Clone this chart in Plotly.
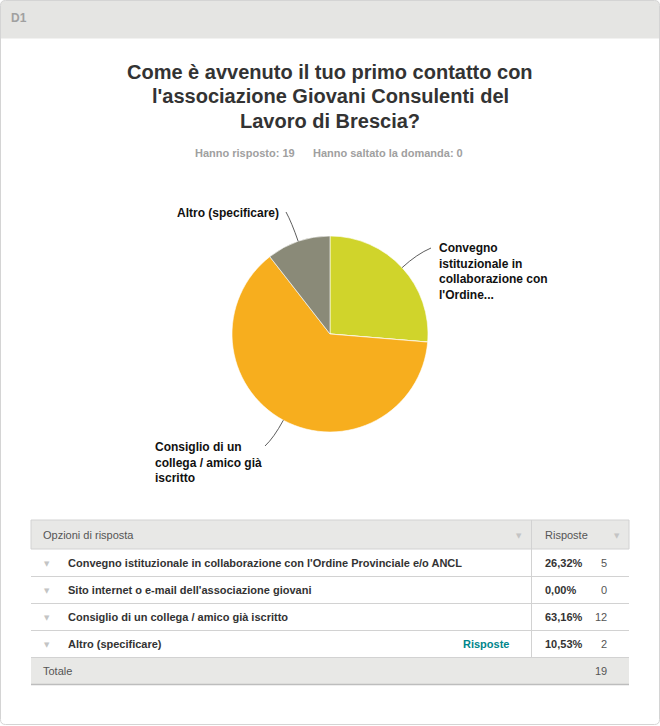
import math
import plotly.graph_objects as go

# ---------------- data ----------------
question_id = "D1"
title_lines = ["Come è avvenuto il tuo primo contatto con",
               "l'associazione Giovani Consulenti del",
               "Lavoro di Brescia?"]
answered = 19
skipped = 0
categories = ["Convegno istituzionale in collaborazione con l'Ordine Provinciale e/o ANCL",
              "Sito internet o e-mail dell'associazione giovani",
              "Consiglio di un collega / amico già iscritto",
              "Altro (specificare)"]
pie_labels = ["Convegno<br>istituzionale in<br>collaborazione con<br>l'Ordine...",
              "Sito internet o<br>e-mail...",
              "Consiglio di un<br>collega / amico già<br>iscritto",
              "Altro (specificare)"]
counts = [5, 0, 12, 2]
percents = [26.32, 0.00, 63.16, 10.53]
slice_colors = ["#D0D42B", "#5C9FD2", "#F7AE1E", "#8A8A78"]
header_labels = ["Opzioni di risposta", "Risposte"]
total_label = "Totale"
link_label = "Risposte"

# ---------------- layout helpers ----------------
W, H = 660, 726
FONT = "Liberation Sans, Arial, DejaVu Sans, sans-serif"


def X(x):
    return x / W


def Y(y):
    return 1 - y / H


fig = go.Figure()

# pie geometry (pixels)
cx, cy, r = 330, 334, 98
fig.add_trace(go.Pie(
    labels=categories, values=counts, sort=False, direction="clockwise",
    rotation=0, marker=dict(colors=slice_colors, line=dict(color="#ffffff", width=0.6)),
    textinfo="none", textposition="none", hoverinfo="label+percent",
    domain=dict(x=[X(cx - r), X(cx + r)], y=[Y(cy + r), Y(cy - r)]),
    showlegend=False,
))

shapes = []
annotations = []

# outer frame with rounded corners
rr = 5
x0, y0, x1, y1 = 0.5, 0.5, 659.5, 724.5
frame = (f"M {X(x0+rr)},{Y(y0)} L {X(x1-rr)},{Y(y0)} Q {X(x1)},{Y(y0)} {X(x1)},{Y(y0+rr)} "
         f"L {X(x1)},{Y(y1-rr)} Q {X(x1)},{Y(y1)} {X(x1-rr)},{Y(y1)} "
         f"L {X(x0+rr)},{Y(y1)} Q {X(x0)},{Y(y1)} {X(x0)},{Y(y1-rr)} "
         f"L {X(x0)},{Y(y0+rr)} Q {X(x0)},{Y(y0)} {X(x0+rr)},{Y(y0)} Z")
# header band
band = (f"M {X(x0+rr)},{Y(y0)} L {X(x1-rr)},{Y(y0)} Q {X(x1)},{Y(y0)} {X(x1)},{Y(y0+rr)} "
        f"L {X(x1)},{Y(38.5)} L {X(x0)},{Y(38.5)} L {X(x0)},{Y(y0+rr)} Q {X(x0)},{Y(y0)} {X(x0+rr)},{Y(y0)} Z")
shapes.append(dict(type="path", path=band, xref="paper", yref="paper",
                   fillcolor="#E5E5E3", line=dict(width=0), layer="below"))
shapes.append(dict(type="path", path=frame, xref="paper", yref="paper",
                   fillcolor="rgba(0,0,0,0)", line=dict(color="#D4D4D4", width=1)))

annotations.append(dict(text=f"<b>{question_id}</b>", x=X(9), y=Y(18), xref="paper", yref="paper",
                        xanchor="left", yanchor="middle", showarrow=False,
                        font=dict(family=FONT, size=12, color="#A0A0A0")))

# title
for i, line in enumerate(title_lines):
    annotations.append(dict(text=f"<b>{line}</b>", x=X(330), y=Y(72 + i * 24.5), xref="paper", yref="paper",
                            xanchor="center", yanchor="middle", showarrow=False,
                            font=dict(family=FONT, size=20, color="#333333")))

annotations.append(dict(text=f"<b>Hanno risposto: {answered}</b>      <b>Hanno saltato la domanda: {skipped}</b>",
                        x=X(329), y=Y(153), xref="paper", yref="paper", xanchor="center", yanchor="middle",
                        showarrow=False, font=dict(family=FONT, size=11, color="#A0A0A0")))

# pie labels with curved leader lines, anchored to slice mid-angles
total = sum(counts)
label_pos = {0: (437, 271), 2: (153, 462), 3: (175, 213)}
line_end = {0: (431, 248), 2: (265, 446), 3: (286, 212)}
cum = 0.0
for i, c in enumerate(counts):
    start = cum
    cum += c / total * 360
    if c == 0:
        continue
    mid = math.radians((start + cum) / 2)
    ux, uy = math.sin(mid), -math.cos(mid)
    ex, ey = cx + r * ux, cy + r * uy
    kx, ky = ex + 20 * ux, ey + 20 * uy
    tx, ty = line_end[i]
    shapes.append(dict(type="path", xref="paper", yref="paper",
                       path=f"M {X(ex)},{Y(ey)} Q {X(kx)},{Y(ky)} {X(tx)},{Y(ty)}",
                       line=dict(color="#333333", width=0.8)))
    lx, ly = label_pos[i]
    annotations.append(dict(text=f"<b>{pie_labels[i]}</b>", x=X(lx), y=Y(ly), xref="paper", yref="paper",
                            xanchor="left", yanchor="middle", align="left", showarrow=False,
                            font=dict(family=FONT, size=12, color="#111111")))

# ---------------- table ----------------
tl, tr, tdiv = 31, 629, 531
head_top, head_bot = 520, 549
row_h = 27
grey = "#E8E8E6"
line_c = "#D2D2D2"
shapes.append(dict(type="rect", xref="paper", yref="paper", x0=X(tl), x1=X(tr), y0=Y(head_bot), y1=Y(head_top),
                   fillcolor=grey, line=dict(color=line_c, width=1), layer="below"))
n = len(categories)
tot_top = head_bot + n * row_h
tot_bot = tot_top + row_h
shapes.append(dict(type="rect", xref="paper", yref="paper", x0=X(tl), x1=X(tr), y0=Y(tot_bot), y1=Y(tot_top),
                   fillcolor=grey, line=dict(width=0), layer="below"))
for k in range(1, n + 1):
    yy = head_bot + k * row_h + 0.5
    shapes.append(dict(type="line", xref="paper", yref="paper", x0=X(tl), x1=X(tr), y0=Y(yy), y1=Y(yy),
                       line=dict(color=line_c, width=1)))
shapes.append(dict(type="line", xref="paper", yref="paper", x0=X(tl), x1=X(tr), y0=Y(tot_bot + 0.5), y1=Y(tot_bot + 0.5),
                   line=dict(color="#BDBDBD", width=1.5)))
shapes.append(dict(type="line", xref="paper", yref="paper", x0=X(tdiv + 0.5), x1=X(tdiv + 0.5),
                   y0=Y(head_top), y1=Y(tot_top), line=dict(color=line_c, width=1)))

hy = (head_top + head_bot) / 2
annotations.append(dict(text=header_labels[0], x=X(41), y=Y(hy), xref="paper", yref="paper", xanchor="left",
                        yanchor="middle", showarrow=False, font=dict(family=FONT, size=11, color="#555555")))
annotations.append(dict(text=header_labels[1], x=X(543), y=Y(hy), xref="paper", yref="paper", xanchor="left",
                        yanchor="middle", showarrow=False, font=dict(family=FONT, size=11, color="#555555")))
for tx in (519, 617):
    annotations.append(dict(text="▼", x=X(tx), y=Y(hy + 1), xref="paper", yref="paper", xanchor="center",
                            yanchor="middle", showarrow=False, font=dict(family="DejaVu Sans", size=7, color="#C4C4C4")))

for i, cat in enumerate(categories):
    ry = head_bot + i * row_h + row_h / 2 + 0.5
    annotations.append(dict(text="▼", x=X(47), y=Y(ry + 0.5), xref="paper", yref="paper", xanchor="center",
                            yanchor="middle", showarrow=False, font=dict(family="DejaVu Sans", size=7, color="#C4C4C4")))
    annotations.append(dict(text=f"<b>{cat}</b>", x=X(66), y=Y(ry), xref="paper", yref="paper", xanchor="left",
                            yanchor="middle", showarrow=False, font=dict(family=FONT, size=11, color="#333333")))
    annotations.append(dict(text=f"<b>{percents[i]:.2f}%</b>".replace(".", ","), x=X(543), y=Y(ry), xref="paper",
                            yref="paper", xanchor="left", yanchor="middle", showarrow=False,
                            font=dict(family=FONT, size=11, color="#333333")))
    annotations.append(dict(text=str(counts[i]), x=X(609), y=Y(ry), xref="paper", yref="paper", xanchor="right",
                            yanchor="middle", showarrow=False, font=dict(family=FONT, size=11, color="#555555")))
    if cat.startswith("Altro"):
        annotations.append(dict(text=f"<b>{link_label}</b>", x=X(511), y=Y(ry), xref="paper", yref="paper",
                                xanchor="right", yanchor="middle", showarrow=False,
                                font=dict(family=FONT, size=11, color="#00868B")))

ty_tot = tot_top + row_h / 2 + 0.5
annotations.append(dict(text=total_label, x=X(41), y=Y(ty_tot), xref="paper", yref="paper", xanchor="left",
                        yanchor="middle", showarrow=False, font=dict(family=FONT, size=11, color="#555555")))
annotations.append(dict(text=str(sum(counts)), x=X(609), y=Y(ty_tot), xref="paper", yref="paper", xanchor="right",
                        yanchor="middle", showarrow=False, font=dict(family=FONT, size=11, color="#555555")))

fig.update_layout(width=W, height=H, autosize=False, margin=dict(l=0, r=0, t=0, b=0),
                  paper_bgcolor="#ffffff", plot_bgcolor="#ffffff",
                  shapes=shapes, annotations=annotations, showlegend=False)
fig.write_html("out.html", config={"displayModeBar": False},
               post_script="document.body.style.margin='0px';document.body.style.overflow='hidden';")
